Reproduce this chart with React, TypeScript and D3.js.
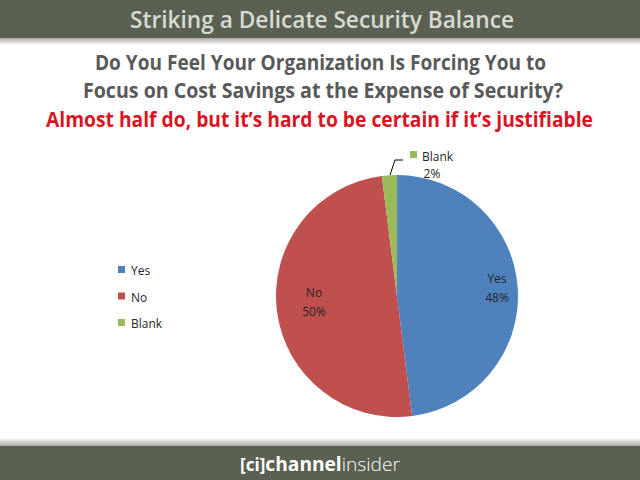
import React from "react";
import * as d3 from "d3";

const categories = ["Yes", "No", "Blank"];
const values = [48, 50, 2];
const colors = ["#4F81BD", "#C0504D", "#9BBB59"];
const title = "Striking a Delicate Security Balance";
const questionLines = [
  "Do You Feel Your Organization Is Forcing You to",
  "Focus on Cost Savings at the Expense of Security?",
];
const subtitle = "Almost half do, but it\u2019s hard to be certain if it\u2019s justifiable";

export default function App() {
  const W = 640, H = 480;
  const cx = 397, cy = 296, r = 121;
  const pie = d3.pie<number>().sort(null).value((d) => d)(values);
  const arc = d3.arc<d3.PieArcDatum<number>>().innerRadius(0).outerRadius(r);
  const font = "'Open Sans', 'DejaVu Sans', sans-serif";
  const labelPos = [
    [497, 283],
    [314, 297],
  ];
  const qx = [320.5, 323];
  const qw = [451, 480];
  return (
    <svg width={W} height={H} style={{ position: "absolute", left: 0, top: 0 }}>
      <defs>
        <linearGradient id="shTop" x1="0" y1="0" x2="0" y2="1">
          <stop offset="0" stopColor="#a9aaa6" />
          <stop offset="1" stopColor="#ffffff" />
        </linearGradient>
        <linearGradient id="shBot" x1="0" y1="0" x2="0" y2="1">
          <stop offset="0" stopColor="#ffffff" />
          <stop offset="1" stopColor="#a9aaa6" />
        </linearGradient>
      </defs>
      <rect x={0} y={0} width={W} height={H} fill="#ffffff" />
      <rect x={0} y={0} width={W} height={38} fill="#5a6152" />
      <rect x={0} y={38} width={W} height={7} fill="url(#shTop)" />
      <rect x={0} y={438} width={W} height={8} fill="url(#shBot)" />
      <rect x={0} y={446} width={W} height={34} fill="#5a6152" />
      <text x={322} y={28} textAnchor="middle" fontFamily={font} fontSize={23} fontWeight={600}
        fill="#d6dad2" textLength={384} lengthAdjust="spacingAndGlyphs">{title}</text>
      {questionLines.map((t, i) => (
        <text key={i} x={qx[i]} y={70 + i * 28} textAnchor="middle" fontFamily={font}
          fontSize={21} fontWeight={700} fill="#595959"
          textLength={qw[i]} lengthAdjust="spacingAndGlyphs">{t}</text>
      ))}
      <text x={319.5} y={127} textAnchor="middle" fontFamily={font} fontSize={20.5} fontWeight={700}
        fill="#d9151f" textLength={547} lengthAdjust="spacingAndGlyphs">{subtitle}</text>
      <g transform={`translate(${cx},${cy})`}>
        {pie.map((d, i) => (
          <path key={i} d={arc(d) || ""} fill={colors[i]} />
        ))}
      </g>
      {labelPos.map((p, i) => (
        <text key={i} x={p[0]} y={p[1]} textAnchor="middle" fontFamily={font} fontSize={12} fill="#262626">
          <tspan x={p[0]}>{categories[i]}</tspan>
          <tspan x={p[0]} dy={19}>{values[i]}%</tspan>
        </text>
      ))}
      <polyline points="390,175 395,160 403,160" fill="none" stroke="#000" strokeWidth={1} />
      <rect x={410} y={151} width={7} height={7} fill={colors[2]} />
      <text x={422} y={161} fontFamily={font} fontSize={12} fill="#262626">{categories[2]}</text>
      <text x={432} y={178} textAnchor="middle" fontFamily={font} fontSize={12} fill="#262626">{values[2]}%</text>
      {categories.map((c, i) => (
        <g key={c}>
          <rect x={118} y={266 + i * 26.5} width={7} height={7} fill={colors[i]} />
          <text x={131} y={275 + i * 26.5} fontFamily={font} fontSize={12} fill="#262626">{c}</text>
        </g>
      ))}
      <text x={320} y={471} textAnchor="middle" fontFamily={font} fontSize={19} fill="#ffffff"
        textLength={160} lengthAdjust="spacingAndGlyphs">
        <tspan fontWeight={700} fontSize={17}>[ci]</tspan>
        <tspan fontWeight={700}>channel</tspan>
        <tspan fontWeight={300}>insider</tspan>
      </text>
    </svg>
  );
}
